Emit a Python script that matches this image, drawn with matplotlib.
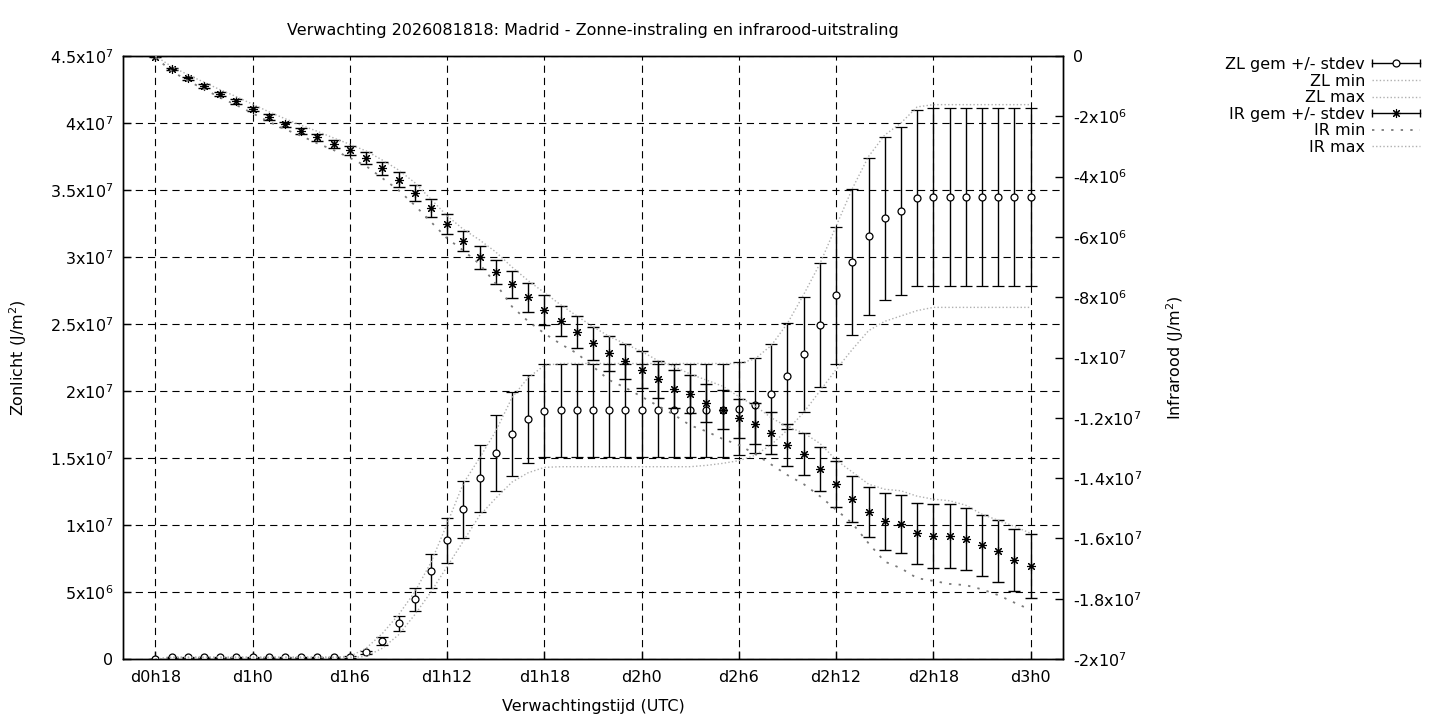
import numpy as np
import matplotlib
matplotlib.use("Agg")
import matplotlib.pyplot as plt
import matplotlib.ticker as mticker
from matplotlib.lines import Line2D
from matplotlib.legend_handler import HandlerBase

# ---- Data (waarden in 1e6 J/m2, per uur vanaf d0h18) ----
uren = np.arange(55)
tick_uren = [0, 6, 12, 18, 24, 30, 36, 42, 48, 54]
tick_labels = ["d0h18", "d1h0", "d1h6", "d1h12", "d1h18",
               "d2h0", "d2h6", "d2h12", "d2h18", "d3h0"]

zl_gem = [0, 0.13, 0.13, 0.13, 0.13, 0.13, 0.13, 0.13, 0.13, 0.13, 0.13, 0.13,
          0.15, 0.5, 1.32, 2.66, 4.45, 6.57, 8.86, 11.17, 13.5, 15.35, 16.77, 17.89,
          18.51, 18.56, 18.56, 18.56, 18.56, 18.56, 18.56, 18.56, 18.56, 18.56, 18.56, 18.56,
          18.66, 18.93, 19.75, 21.1, 22.74, 24.9, 27.14, 29.6, 31.55, 32.89, 33.41, 34.38,
          34.48, 34.48, 34.48, 34.48, 34.48, 34.48, 34.48]
zl_std = [0.02, 0.02, 0.02, 0.02, 0.02, 0.02, 0.02, 0.02, 0.02, 0.02, 0.02, 0.02,
          0.05, 0.12, 0.3, 0.55, 0.85, 1.27, 1.69, 2.14, 2.5, 2.84, 3.12, 3.3,
          3.47, 3.47, 3.47, 3.47, 3.47, 3.47, 3.47, 3.47, 3.47, 3.47, 3.47, 3.47, 3.47,
          3.54, 3.76, 3.96, 4.3, 4.63, 5.12, 5.45, 5.85, 6.09, 6.27, 6.57,
          6.62, 6.62, 6.62, 6.62, 6.62, 6.62, 6.62]
zl_min = [0, 0.1, 0.1, 0.1, 0.1, 0.1, 0.1, 0.1, 0.1, 0.1, 0.1, 0.1,
          0.1, 0.2, 0.8, 1.8, 3.3, 5.0, 6.9, 8.8, 10.7, 12.0, 13.2, 13.9,
          14.3, 14.35, 14.35, 14.35, 14.35, 14.35, 14.35, 14.35, 14.35, 14.35,
          14.45, 14.6, 14.8, 15.2, 16.0, 17.1, 18.4, 20.0, 21.6, 23.1, 24.5, 25.2, 25.6, 26.0,
          26.24, 26.24, 26.24, 26.24, 26.24, 26.24, 26.24]
zl_max = [0, 0.15, 0.15, 0.15, 0.15, 0.15, 0.15, 0.15, 0.15, 0.15, 0.15, 0.15,
          0.2, 0.8, 1.9, 3.3, 5.0, 7.2, 10.1, 13.1, 15.0, 17.0, 19.5, 21.0,
          21.9, 22.05, 22.05, 22.05, 22.05, 22.05, 22.05, 22.05, 22.05, 22.05, 22.05, 22.05, 22.05,
          22.4, 23.4, 25.05, 27.2, 29.5, 32.3, 35.1, 37.5, 39.1, 40.0, 41.2,
          41.37, 41.37, 41.37, 41.37, 41.37, 41.37, 41.37]

ir_gem = [-0.02, -0.44, -0.74, -1.0, -1.26, -1.5, -1.76, -2.03, -2.27, -2.48,
          -2.7, -2.91, -3.13, -3.39, -3.73, -4.11, -4.55, -5.03, -5.57, -6.14,
          -6.68, -7.17, -7.57, -8.0, -8.42, -8.8, -9.16, -9.53, -9.86, -10.13,
          -10.41, -10.72, -11.03, -11.22, -11.51, -11.73, -12.02, -12.2, -12.5, -12.9,
          -13.2, -13.71, -14.2, -14.7, -15.13, -15.43, -15.53, -15.83, -15.93, -15.93,
          -16.03, -16.23, -16.43, -16.73, -16.93]
ir_std = [0.02, 0.04, 0.05, 0.06, 0.07, 0.08, 0.08, 0.09, 0.09, 0.1,
          0.12, 0.13, 0.14, 0.2, 0.22, 0.25, 0.27, 0.3, 0.33, 0.34,
          0.38, 0.39, 0.45, 0.48, 0.49, 0.5, 0.54, 0.55, 0.58, 0.58,
          0.61, 0.61, 0.63, 0.63, 0.63, 0.65, 0.66, 0.68, 0.69, 0.7,
          0.7, 0.73, 0.76, 0.77, 0.84, 0.94, 0.97, 1.02, 1.06, 1.06,
          1.03, 1.01, 1.03, 1.03, 1.06]
ir_min = [-0.05, -0.5, -0.82, -1.1, -1.38, -1.63, -1.9, -2.18, -2.43, -2.65,
          -2.9, -3.12, -3.38, -3.65, -4.05, -4.45, -4.95, -5.5, -6.05, -6.45,
          -6.9, -7.55, -8.31, -8.8, -9.2, -9.55, -9.86, -10.3, -10.75, -11.0,
          -11.3, -11.6, -11.9, -12.25, -12.45, -12.7, -12.9, -13.2, -13.55, -13.9,
          -14.2, -14.6, -15.05, -15.5, -16.16, -16.77, -16.99, -17.32, -17.41, -17.51,
          -17.55, -17.69, -17.88, -18.13, -18.37]
ir_max = [0.0, -0.35, -0.62, -0.87, -1.12, -1.35, -1.6, -1.85, -2.08, -2.3,
          -2.5, -2.72, -2.93, -3.15, -3.45, -3.78, -4.2, -4.75, -5.3, -5.75,
          -6.1, -6.5, -7.0, -7.45, -7.85, -8.25, -8.62, -8.98, -9.3, -9.55,
          -9.8, -10.1, -10.3, -10.55, -10.75, -10.95, -11.3, -11.6, -12.0, -12.3,
          -12.5, -12.85, -13.4, -13.8, -14.2, -14.37, -14.42, -14.6, -14.7, -14.75,
          -14.9, -15.2, -15.4, -15.6, -15.83]

schaal = 1e6
titel = "Verwachting 2026081818: Madrid - Zonne-instraling en infrarood-uitstraling"

fs = 11.5
plt.rcParams["font.family"] = "DejaVu Sans"
plt.rcParams["font.size"] = fs

ster = (8, 2, 0)
kleur_zl = "#b0b0b0"
kleur_ir_min = "#7a7a7a"
kleur_ir_max = "#b0b0b0"
stip_fijn = (0, (1, 1.6))
stip_grof = (0, (1.3, 4))


def macht_fmt(v, _):
    if abs(v) < 1:
        return "0"
    exp = int(np.floor(np.log10(abs(v)) + 1e-9))
    mant = v / 10 ** exp
    return f"{mant:g}x10$^{{{exp}}}$"


class BalkHandler(HandlerBase):
    """gnuplot-achtig legendasymbool: horizontale lijn met eindstreepjes en punt."""
    def __init__(self, marker, ms, mfc, mew):
        super().__init__()
        self.marker, self.ms, self.mfc, self.mew = marker, ms, mfc, mew

    def create_artists(self, legend, orig_handle, xdescent, ydescent,
                       width, height, fontsize, trans):
        y = height / 2 - ydescent
        x0, x1 = -xdescent, width - xdescent
        lijn = Line2D([x0, x1], [y, y], color="black", lw=1, transform=trans)
        kap = Line2D([x0, x1], [y, y], ls="none", marker="|", ms=6, mew=1,
                     color="black", transform=trans)
        punt = Line2D([(x0 + x1) / 2], [y], ls="none", marker=self.marker,
                      ms=self.ms, mfc=self.mfc, mec="black", mew=self.mew,
                      transform=trans)
        return [lijn, kap, punt]


fig = plt.figure(figsize=(14.4, 7.2), dpi=100)
ax = fig.add_axes([123 / 1440, 61 / 720, 940 / 1440, 603 / 720])
ax2 = ax.twinx()

# ---- Zonlicht ----
ax.errorbar(uren, np.array(zl_gem) * schaal, yerr=np.array(zl_std) * schaal,
            fmt="o", ms=5, mfc="white", mec="black", mew=0.9,
            ecolor="black", elinewidth=1, capsize=4.5, capthick=1, zorder=3)
ax.plot(uren, np.array(zl_min) * schaal, color=kleur_zl, ls=stip_fijn, lw=1, zorder=4)
ax.plot(uren, np.array(zl_max) * schaal, color=kleur_zl, ls=stip_fijn, lw=1, zorder=4)

# ---- Infrarood ----
ax2.errorbar(uren, np.array(ir_gem) * schaal, yerr=np.array(ir_std) * schaal,
             fmt="none", ecolor="black", elinewidth=1, capsize=4.5, capthick=1, zorder=3)
ax2.plot(uren, np.array(ir_gem) * schaal, ls="none", marker=ster, ms=6.5,
         mec="black", mew=0.8, zorder=3)
ax2.plot(uren, np.array(ir_min) * schaal, color=kleur_ir_min, ls=stip_grof, lw=1.3, zorder=4)
ax2.plot(uren, np.array(ir_max) * schaal, color=kleur_ir_max, ls=stip_fijn, lw=1, zorder=4)

# ---- Assen ----
ax.set_xlim(-2, 56)
ax.set_ylim(0, 4.5e7)
ax2.set_ylim(-2e7, 0)
ax.set_xticks(tick_uren)
ax.set_xticklabels(tick_labels)
ax.yaxis.set_major_locator(mticker.MultipleLocator(5e6))
ax2.yaxis.set_major_locator(mticker.MultipleLocator(2e6))
ax.yaxis.set_major_formatter(mticker.FuncFormatter(macht_fmt))
ax2.yaxis.set_major_formatter(mticker.FuncFormatter(macht_fmt))

ax.tick_params(axis="x", direction="in", length=6, width=1, pad=8, labelsize=fs)
ax.tick_params(axis="y", direction="in", length=6, width=1, pad=7, labelsize=fs)
ax2.tick_params(axis="y", direction="in", length=6, width=1, pad=7, labelsize=fs)
for a in (ax, ax2):
    for s in a.spines.values():
        s.set_linewidth(1)

ax.grid(True, color="black", ls=(0, (6.5, 4.5)), lw=0.8)
ax.set_axisbelow(True)

ax.set_title(titel, fontsize=fs, pad=15)
ax.set_xlabel("Verwachtingstijd (UTC)", fontsize=fs)
ax.xaxis.set_label_coords(0.5, -47 / 603)
ax.xaxis.label.set_va("center")
ax.set_ylabel("Zonlicht (J/m$^2$)", fontsize=fs)
ax.yaxis.set_label_coords(-105 / 940, 0.5)
ax.yaxis.label.set_va("center")
ax2.set_ylabel("Infrarood (J/m$^2$)", fontsize=fs)
ax2.yaxis.set_label_coords(1052 / 940, 0.5)
ax2.yaxis.label.set_va("center")

# ---- Legenda ----
h_zl = Line2D([], [])
h_ir = Line2D([], [])
handles = [
    h_zl,
    Line2D([], [], color=kleur_zl, ls=stip_fijn, lw=1),
    Line2D([], [], color=kleur_zl, ls=stip_fijn, lw=1),
    h_ir,
    Line2D([], [], color=kleur_ir_min, ls=stip_grof, lw=1.3),
    Line2D([], [], color=kleur_ir_max, ls=stip_fijn, lw=1),
]
labels = ["ZL gem +/- stdev", "ZL min", "ZL max", "IR gem +/- stdev", "IR min", "IR max"]
fig.legend(handles, labels, loc="upper right",
           bbox_to_anchor=(1420 / 1440, 1 - 57 / 720), frameon=False,
           markerfirst=False, handlelength=3.0, handletextpad=0.45,
           labelspacing=0.1, borderpad=0, borderaxespad=0, fontsize=fs,
           handler_map={h_zl: BalkHandler("o", 5, "white", 0.9),
                        h_ir: BalkHandler(ster, 6.5, "black", 0.8)})

fig.savefig("out.png", dpi=100)
